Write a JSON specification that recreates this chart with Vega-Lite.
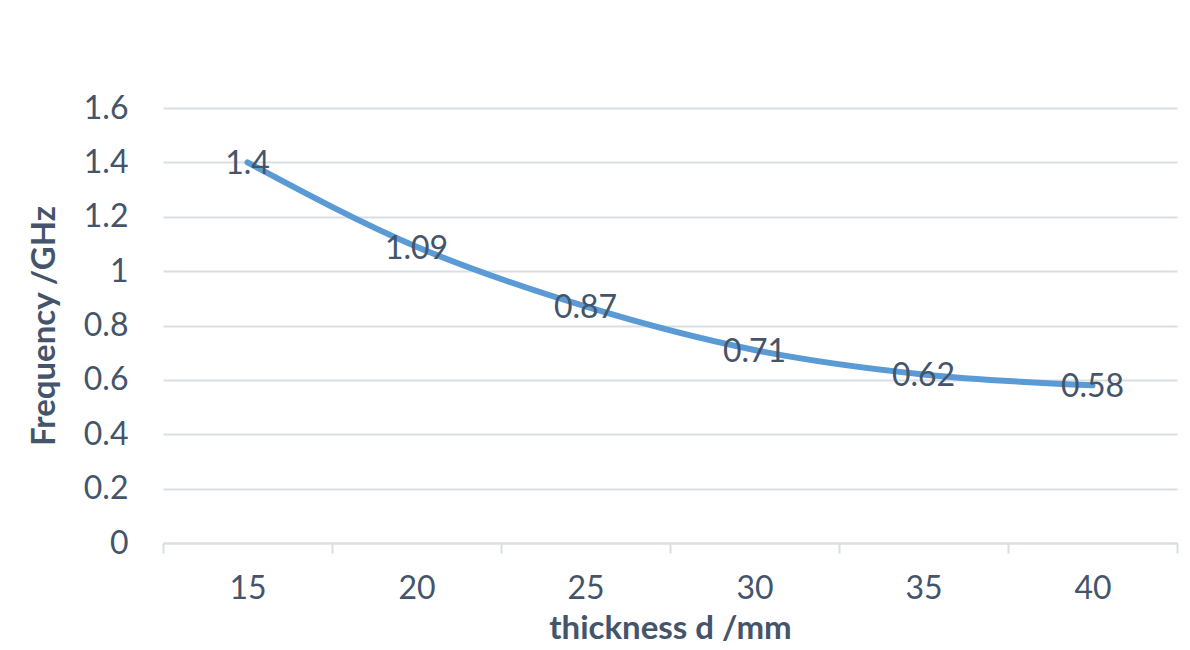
{
  "$schema": "https://vega.github.io/schema/vega-lite/v6.json",
  "width": 1014,
  "height": 435,
  "autosize": {"type": "none"},
  "padding": {"left": 163, "top": 108, "right": 13, "bottom": 107},
  "background": "white",
  "config": {
    "view": {"stroke": null},
    "font": "Lato",
    "axis": {
      "labelFont": "Lato",
      "labelFontSize": 32,
      "labelColor": "#44546A",
      "titleFont": "Lato",
      "titleFontWeight": "bold",
      "titleFontSize": 33,
      "titleColor": "#44546A",
      "gridColor": "#D9DEE4",
      "gridWidth": 2,
      "domainColor": "#D9DEE4",
      "domainWidth": 2,
      "tickColor": "#D9DEE4",
      "tickWidth": 2
    }
  },
  "data": {
    "values": [
      {"d": 15, "f": 1.4},
      {"d": 20, "f": 1.09},
      {"d": 25, "f": 0.87},
      {"d": 30, "f": 0.71},
      {"d": 35, "f": 0.62},
      {"d": 40, "f": 0.58}
    ]
  },
  "encoding": {
    "x": {
      "field": "d",
      "type": "quantitative",
      "scale": {"domain": [12.5, 42.5], "nice": false, "zero": false},
      "axis": {
        "title": "thickness d /mm",
        "values": [12.5, 17.5, 22.5, 27.5, 32.5, 37.5, 42.5],
        "labelExpr": "datum.value > 40 ? '' : format(datum.value + 2.5, 'd')",
        "labelOffset": 84.5,
        "labelAlign": "center",
        "labelPadding": 20,
        "tickSize": 10,
        "grid": false,
        "titlePadding": 8
      }
    },
    "y": {
      "field": "f",
      "type": "quantitative",
      "scale": {"domain": [0, 1.6], "nice": false},
      "axis": {
        "title": "Frequency /GHz",
        "values": [0, 0.2, 0.4, 0.6, 0.8, 1, 1.2, 1.4, 1.6],
        "format": ".1~f",
        "ticks": false,
        "domain": false,
        "labelPadding": 35,
        "titlePadding": 22
      }
    }
  },
  "layer": [
    {
      "mark": {"type": "line", "interpolate": "monotone", "color": "#5B9BD5", "strokeWidth": 6, "strokeCap": "round"}
    },
    {
      "mark": {"type": "text", "fontSize": 32, "color": "#44546A", "baseline": "middle", "align": "center", "dy": 2, "font": "Lato"},
      "encoding": {
        "text": {"field": "f", "type": "quantitative", "format": ".3~g"}
      }
    }
  ]
}
